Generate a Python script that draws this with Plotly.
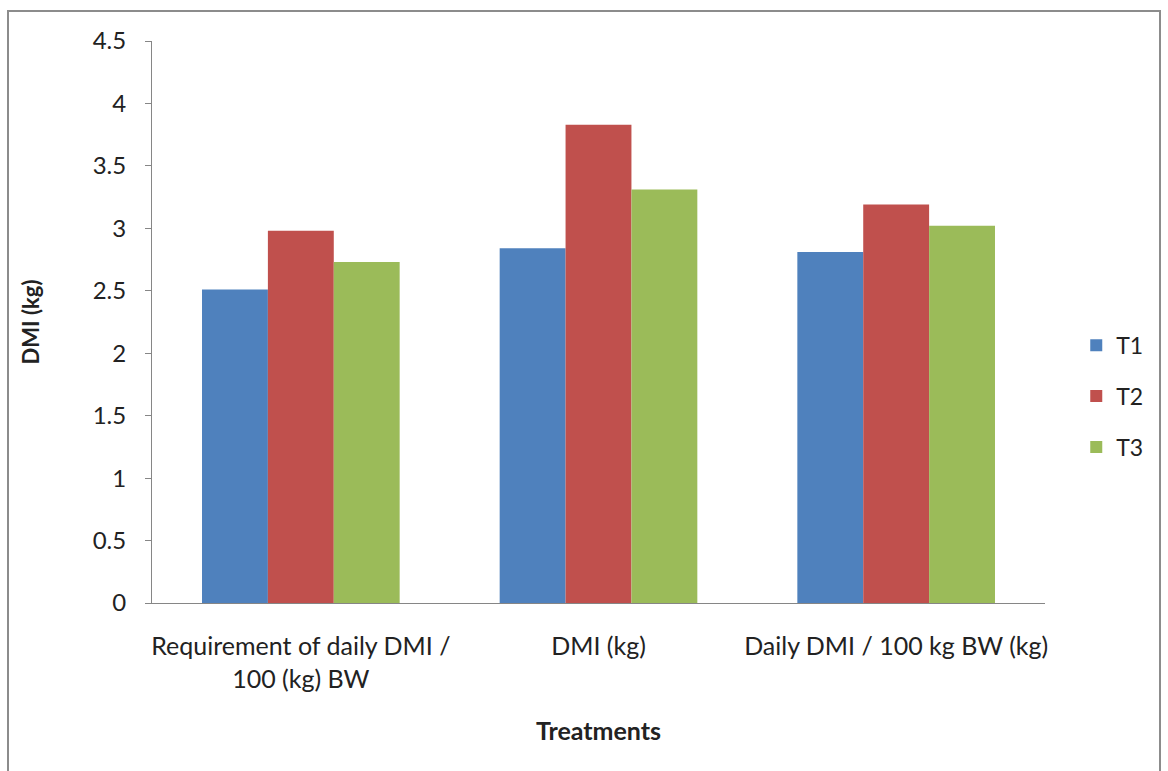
import plotly.graph_objects as go

# Feed intake measures per treatment group
categories = [
    "Requirement of daily DMI /<br>100 (kg) BW",
    "DMI (kg)",
    "Daily DMI / 100 kg BW (kg)",
]
series_names = ["T1", "T2", "T3"]
t1_values = [2.51, 2.84, 2.81]
t2_values = [2.98, 3.83, 3.19]
t3_values = [2.73, 3.31, 3.02]
series_colors = ["#4F81BD", "#C0504D", "#9BBB59"]
y_ticks = [0, 0.5, 1, 1.5, 2, 2.5, 3, 3.5, 4, 4.5]

FONT = "Lato"
W, H = 1168, 771
L, R, T, B = 152, 123, 41, 168

fig = go.Figure()
for name, vals, col in zip(series_names, [t1_values, t2_values, t3_values], series_colors):
    fig.add_trace(go.Bar(
        x=categories, y=vals, name=name, legendgroup=name,
        marker=dict(color=col, line=dict(width=0)),
    ))

fig.update_layout(
    width=W, height=H,
    margin=dict(l=L, r=R, t=T, b=B),
    paper_bgcolor="white", plot_bgcolor="white",
    barmode="group", bargap=0.336, bargroupgap=0,
    font=dict(family=FONT, size=24, color="#222222"),
    showlegend=True,
    legend=dict(
        x=1.035, y=0.368, xanchor="left", yanchor="middle",
        font=dict(family=FONT, size=23, color="#222222"),
        tracegroupgap=18, itemwidth=30, bgcolor="rgba(0,0,0,0)",
    ),
    xaxis=dict(
        showline=True, linecolor="#868686", linewidth=1,
        ticks="", showgrid=False,
        tickfont=dict(family=FONT, size=25),
        ticklabelstandoff=21,
        title=dict(text="<b>Treatments</b>", font=dict(family=FONT, size=25), standoff=30),
    ),
    yaxis=dict(
        range=[0, 4.5], tickvals=y_ticks, ticktext=[f"{v:g}" for v in y_ticks],
        showline=True, linecolor="#868686", linewidth=1,
        ticks="outside", ticklen=6, tickcolor="#868686",
        showgrid=False, zeroline=False,
        tickfont=dict(family=FONT, size=24),
        ticklabelstandoff=14,
        title=dict(text="<b>DMI (kg)</b>", font=dict(family=FONT, size=22), standoff=46),
    ),
)

# Outer frame around the whole chart
fig.add_shape(
    type="rect", xref="paper", yref="paper",
    x0=(8 - L) / (W - L - R), x1=(1160 - L) / (W - L - R),
    y0=(H - B - 775) / (H - T - B), y1=(H - B - 11) / (H - T - B),
    line=dict(color="#8C8C8C", width=2), fillcolor="rgba(0,0,0,0)", layer="below",
)

fig.write_html("out.html")
